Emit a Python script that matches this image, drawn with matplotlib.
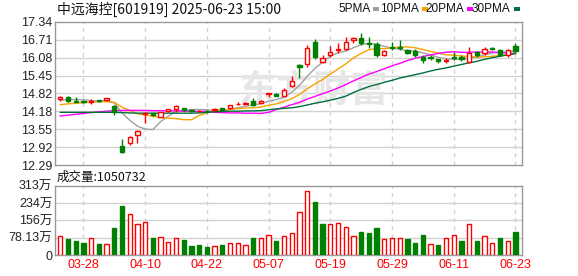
import matplotlib
matplotlib.use('Agg')
import matplotlib.pyplot as plt
from matplotlib.patches import Rectangle

dates = ['03-25','03-26','03-27','03-28','03-31','04-01','04-02','04-03','04-07','04-08',
         '04-09','04-10','04-11','04-14','04-15','04-16','04-17','04-18','04-21','04-22',
         '04-23','04-24','04-25','04-28','04-29','04-30','05-06','05-07','05-08','05-09',
         '05-12','05-13','05-14','05-15','05-16','05-19','05-20','05-21','05-22','05-23',
         '05-26','05-27','05-28','05-29','05-30','06-03','06-04','06-05','06-06','06-09',
         '06-10','06-11','06-12','06-13','06-16','06-17','06-18','06-19','06-20','06-23']

opens = [14.61,14.70,14.56,14.55,14.52,14.58,14.58,14.37,12.96,13.06,
         13.34,14.10,14.12,14.00,14.20,14.27,14.29,14.24,14.18,14.20,
         14.22,14.29,14.29,14.43,14.46,14.55,14.47,14.79,14.79,14.74,
         15.08,15.83,15.85,16.64,15.92,16.17,16.36,16.38,16.72,16.79,
         16.61,16.55,16.17,16.45,16.44,16.35,16.33,16.12,16.10,16.02,
         15.98,16.12,16.11,15.94,16.29,16.23,16.42,16.35,16.17,16.49]
highs = [14.72,14.71,14.68,14.57,14.63,14.60,14.67,14.41,13.20,13.31,
         13.51,14.15,14.14,14.16,14.27,14.41,14.31,14.27,14.24,14.22,
         14.29,14.31,14.42,14.50,14.53,14.65,14.57,14.83,14.84,15.00,
         15.43,15.85,16.53,16.73,16.17,16.49,16.61,16.82,16.82,16.96,
         16.82,16.64,16.35,16.64,16.72,16.38,16.38,16.17,16.17,16.04,
         16.06,16.29,16.17,16.47,16.33,16.47,16.47,16.37,16.38,16.61]
lows = [14.56,14.53,14.51,14.47,14.45,14.51,14.56,14.07,12.72,12.99,
        13.08,13.76,14.02,13.98,14.17,14.15,14.20,14.17,14.15,14.14,
        14.20,14.22,14.28,14.40,14.44,14.38,14.46,14.68,14.71,14.72,
        15.05,15.35,15.76,16.02,15.88,16.09,16.23,16.35,16.59,16.53,
        16.41,16.12,16.15,16.35,16.35,16.20,16.12,15.90,16.00,15.90,
        15.90,16.00,15.97,15.88,16.12,16.17,16.35,16.15,16.10,16.23]
closes = [14.70,14.56,14.53,14.52,14.55,14.54,14.64,14.17,12.74,13.28,
          13.49,14.13,14.04,14.15,14.26,14.38,14.23,14.21,14.19,14.18,
          14.27,14.24,14.41,14.45,14.48,14.40,14.56,14.82,14.72,14.94,
          15.26,15.75,16.41,16.12,16.08,16.29,16.40,16.64,16.76,16.59,
          16.57,16.17,16.33,16.42,16.43,16.25,16.17,16.00,16.06,15.95,
          16.01,16.08,16.04,16.24,16.16,16.39,16.40,16.18,16.34,16.31]

volumes = [86,72,63,54,75,50,50,122,221,185,140,149,77,80,59,75,68,41,44,36,
           39,45,54,54,44,77,77,89,63,86,98,193,287,239,140,140,144,126,84,104,
           99,122,71,75,75,72,54,90,48,44,75,89,63,138,63,84,53,77,63,105.07]

ma5 = [14.58,14.60,14.60,14.59,14.57,14.54,14.56,14.48,14.13,13.87,
       13.66,13.56,13.54,13.82,14.01,14.19,14.21,14.25,14.25,14.24,
       14.22,14.22,14.26,14.31,14.37,14.40,14.46,14.54,14.60,14.69,
       14.86,15.10,15.42,15.70,15.92,16.13,16.26,16.31,16.43,16.54,
       16.59,16.55,16.48,16.42,16.38,16.32,16.32,16.25,16.18,16.09,
       16.04,16.02,16.03,16.06,16.11,16.18,16.25,16.27,16.29,16.32]
ma10 = [14.42,14.45,14.47,14.49,14.51,14.52,14.53,14.50,14.33,14.22,
        14.10,14.06,14.01,13.97,13.94,13.93,13.89,13.89,14.04,14.13,
        14.20,14.22,14.25,14.28,14.30,14.31,14.34,14.40,14.45,14.53,
        14.63,14.78,14.98,15.15,15.31,15.50,15.68,15.86,16.07,16.23,
        16.36,16.40,16.40,16.43,16.46,16.46,16.43,16.37,16.30,16.24,
        16.18,16.17,16.14,16.12,16.10,16.11,16.13,16.15,16.18,16.22]
ma20 = [14.02,14.05,14.08,14.11,14.14,14.17,14.19,14.21,14.22,14.22,
        14.22,14.22,14.21,14.21,14.20,14.20,14.19,14.19,14.18,14.18,
        14.15,14.14,14.13,14.13,14.12,14.12,14.11,14.15,14.25,14.33,
        14.42,14.50,14.62,14.71,14.81,14.90,15.01,15.13,15.26,15.38,
        15.50,15.59,15.69,15.79,15.88,15.98,16.06,16.12,16.18,16.23,
        16.27,16.29,16.27,16.27,16.28,16.28,16.28,16.26,16.24,16.23]
ma30 = [14.15,14.15,14.15,14.15,14.15,14.15,14.15,14.15,14.14,14.13,
        14.12,14.12,14.12,14.12,14.12,14.12,14.12,14.12,14.13,14.15,
        14.17,14.18,14.19,14.19,14.20,14.20,14.21,14.24,14.27,14.29,
        14.31,14.35,14.41,14.47,14.52,14.58,14.64,14.72,14.85,14.96,
        15.06,15.13,15.21,15.28,15.36,15.42,15.48,15.54,15.61,15.67,
        15.72,15.78,15.84,15.90,15.95,16.02,16.08,16.13,16.18,16.23]

price_ticks = [12.29,12.92,13.55,14.18,14.82,15.45,16.08,16.71,17.34]
price_tick_labels = ['12.29','12.92','13.55','14.18','14.82','15.45','16.08','16.71','17.34']
vol_ticks = [0,78.13,156.26,234.39,312.52]
vol_tick_labels = ['0','78.13万','156万','234万','313万']
date_labels = ['03-28','04-10','04-22','05-07','05-19','05-29','06-11','06-23']
title_text = '中远海控[601919] 2025-06-23 15:00'
vol_title = '成交量:1050732'
ma_names = ['5PMA','10PMA','20PMA','30PMA']

RED = '#ff0000'
GREEN = '#008000'
MA_COLORS = ['#a0a0a0','#f5a300','#ff00ff','#00703c']
GRID = '#d2d2d2'
SPINE = '#999999'
CJK = ['Noto Sans CJK SC','DejaVu Sans']
NUM = ['Liberation Sans','Noto Sans CJK SC']

W, H = 578, 276
fig = plt.figure(figsize=(W/100, H/100), dpi=100)
L, R = 55, 522.3
ax = fig.add_axes([L/W, 1-165/H, (R-L)/W, (165-22)/H])
ax2 = fig.add_axes([L/W, 1-255/H, (R-L)/W, (255-185.7)/H])

n = len(dates)
xs = list(range(n))
xlim = (-0.69, n - 1 + 0.89)
tick_pos = [dates.index(d) for d in date_labels]

for a in (ax, ax2):
    a.set_xlim(*xlim)
    for s in a.spines.values():
        s.set_color(SPINE)
        s.set_linewidth(1)
    a.tick_params(length=0)
    for p in tick_pos:
        a.axvline(p, color=GRID, lw=1, ls=(0, (3, 3)), zorder=0)

# price panel
ax.set_ylim(price_ticks[0], price_ticks[-1])
ax.set_yticks(price_ticks)
ax.set_yticklabels(price_tick_labels, family=NUM, fontsize=9, color='#222222')
ax.tick_params(axis='y', pad=2)
ax.set_xticks([])
for t in price_ticks[1:-1]:
    ax.axhline(t, color=GRID, lw=1, zorder=0)

ax.text(0.555, 0.52, '东方财富', transform=ax.transAxes, family=CJK, fontsize=27,
        color='#e6e6e6', ha='center', va='center', fontweight='bold', zorder=0)

bw = 0.56
for i in xs:
    o, h, l, c = opens[i], highs[i], lows[i], closes[i]
    up = c >= o
    col = RED if up else GREEN
    ax.vlines(i, l, h, colors=col, lw=1, zorder=3)
    body = max(abs(c - o), 0.012)
    ax.add_patch(Rectangle((i - bw/2, min(o, c)), bw, body,
                           facecolor='white' if up else GREEN,
                           edgecolor=col, lw=1, zorder=4))

for vals, col in zip([ma5, ma10, ma20, ma30], MA_COLORS):
    ax.plot(xs, vals, color=col, lw=1, zorder=2)

# volume panel
ax2.set_ylim(vol_ticks[0], vol_ticks[-1])
ax2.set_yticks(vol_ticks)
ax2.set_yticklabels(vol_tick_labels, family=NUM, fontsize=9, color='#222222')
ax2.tick_params(axis='y', pad=2)
for t in vol_ticks[1:-1]:
    ax2.axhline(t, color=GRID, lw=1, zorder=0)
ax2.set_xticks(tick_pos)
ax2.set_xticklabels(date_labels, family=NUM, fontsize=9, color=RED)
ax2.tick_params(axis='x', pad=3)

for i in xs:
    up = i == 0 or closes[i] >= closes[i - 1]
    ax2.bar(i, volumes[i], width=bw, bottom=0,
            facecolor='white' if up else GREEN,
            edgecolor=RED if up else GREEN, lw=1, zorder=3)

# texts
fig.text(57/W, 1-9/H, title_text, family=CJK, fontsize=10, va='center', ha='left', color='#111111')
fig.text(57/W, 1-177/H, vol_title, family=CJK, fontsize=9, va='center', ha='left', color='#111111')

leg_x = [338, 380, 425, 472]
for name, col, lx in zip(ma_names, MA_COLORS, leg_x):
    t = fig.text(lx/W, 1-9/H, name, family=NUM, fontsize=8.5, va='center', ha='left', color='#111111')
    fig.canvas.draw()
    bb = t.get_window_extent()
    fig.patches.append(Rectangle(((bb.x1 + 3)/W, 1-10.5/H), 6/W, 3/H,
                                 transform=fig.transFigure, facecolor=col, edgecolor='none'))

fig.savefig('out.png', dpi=100)
